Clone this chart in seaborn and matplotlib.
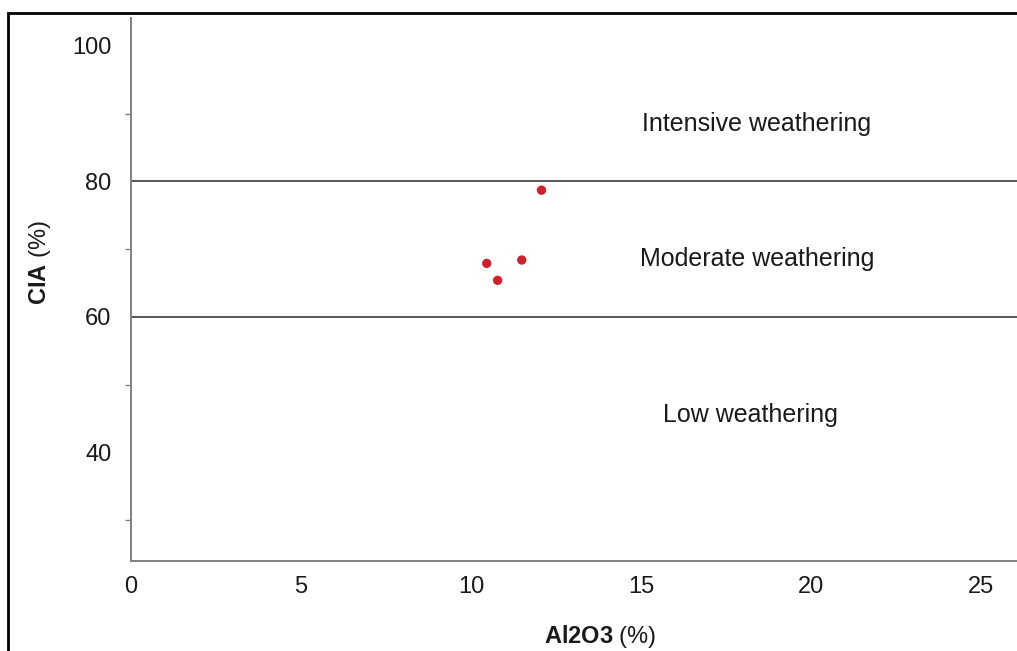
import numpy as np
import pandas as pd
import seaborn as sns
import matplotlib.pyplot as plt
from matplotlib.patches import Rectangle
from matplotlib.ticker import MultipleLocator

# Sample values
al2o3 = [10.46, 10.78, 11.49, 12.07]
cia = [67.9, 65.4, 68.4, 78.7]

# Weathering zone boundaries and labels
boundaries = [60, 80]
zone_labels = ["Intensive weathering", "Moderate weathering", "Low weathering"]
zone_label_x = [18.4, 18.4, 18.2]
zone_label_y = [88.5, 68.5, 45.6]

sns.set_style("white")
plt.rcParams["font.family"] = ["Liberation Sans", "DejaVu Sans"]
plt.rcParams["mathtext.fontset"] = "custom"
plt.rcParams["mathtext.bf"] = "Liberation Sans:bold"
plt.rcParams["mathtext.rm"] = "Liberation Sans"

df = pd.DataFrame({"Al2O3": al2o3, "CIA": cia})

fig = plt.figure(figsize=(10.17, 6.51), dpi=100)
ax = fig.add_axes([0.1288, 0.1382, 0.8712, 0.8342])

sns.scatterplot(data=df, x="Al2O3", y="CIA", ax=ax, color="#d0202a",
                s=45, edgecolor="none", zorder=3)

for b in boundaries:
    ax.axhline(b, color="#555555", linewidth=1.4, zorder=2)

for lab, x, y in zip(zone_labels, zone_label_x, zone_label_y):
    ax.text(x, y, lab, ha="center", va="center", fontsize=18, color="#1a1a1a")

ax.set_xlim(0, 26.05)
ax.set_ylim(24.0, 104.1)
ax.xaxis.set_major_locator(MultipleLocator(5))
ax.yaxis.set_minor_locator(MultipleLocator(10))
ax.set_yticks([40, 60, 80, 100])

ax.tick_params(axis="x", length=0, labelsize=17, pad=11, labelcolor="#1a1a1a")
ax.tick_params(axis="y", which="major", length=6, width=1, color="#808080",
               labelsize=17, labelcolor="#1a1a1a", direction="out", pad=8)
ax.tick_params(axis="y", which="minor", left=True, length=4, width=1,
               color="#808080", direction="out")

for side in ["top", "right"]:
    ax.spines[side].set_visible(False)
for side in ["left", "bottom"]:
    ax.spines[side].set_color("#808080")
    ax.spines[side].set_linewidth(1.4)

ax.set_xlabel(r"$\bf{Al2O3}$ (%)", fontsize=17, color="#1a1a1a")
ax.set_ylabel(r"$\bf{CIA}$ (%)", fontsize=17, color="#1a1a1a")
ax.xaxis.set_label_coords(0.529, -0.114)
ax.yaxis.set_label_coords(-0.088, 0.549)

# Black frame around the figure (runs off right and bottom edges)
fig.patches.append(Rectangle((0.0079, -0.05), 1.05, 0.03 + 0.05 + 0.95,
                             transform=fig.transFigure, fill=False,
                             edgecolor="black", linewidth=2))

fig.savefig("out.png", dpi=100)
